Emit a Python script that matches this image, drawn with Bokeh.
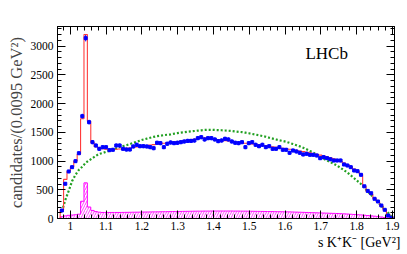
import numpy as np
from bokeh.plotting import figure
from bokeh.models import (FixedTicker, LinearAxis, Label, Range1d, Title,
                          CustomJSTickFormatter)
from bokeh.embed import file_html
from bokeh.resources import INLINE

# ---------------- data ----------------
first_edge = 0.9715
bin_width = 0.0095

data_counts = [139, 604, 818, 893, 997, 1136, 1780, 3137, 1676, 1328,
               1270, 1212, 1241, 1241, 1189, 1195, 1270, 1270, 1212, 1200,
               1200, 1253, 1282, 1258, 1258, 1253, 1241, 1223, 1317, 1311,
               1241, 1300, 1322, 1311, 1317, 1328, 1340, 1350, 1350, 1357,
               1398, 1415, 1375, 1398, 1398, 1375, 1346, 1357, 1386, 1375,
               1340, 1317, 1311, 1328, 1241, 1311, 1328, 1282, 1258, 1282,
               1241, 1258, 1212, 1212, 1241, 1195, 1195, 1143, 1183, 1166,
               1143, 1114, 1126, 1108, 1108, 1096, 1049, 1067, 1050, 1030,
               1009, 1009, 1009, 940, 922, 893, 835, 823, 760, 560,
               480, 440, 343, 296, 226, 151, 52, 12]

fit_total = [150, 680, 820, 900, 1000, 1120, 1735, 3200, 1690, 1320,
             1250, 1225, 1215, 1205, 1200, 1200, 1205, 1210, 1215, 1220,
             1225, 1235, 1245, 1255, 1262, 1270, 1278, 1285, 1292, 1300,
             1308, 1315, 1322, 1330, 1338, 1345, 1352, 1360, 1368, 1378,
             1395, 1410, 1405, 1395, 1385, 1378, 1370, 1362, 1355, 1348,
             1340, 1332, 1325, 1318, 1310, 1303, 1296, 1289, 1281, 1273,
             1265, 1257, 1249, 1240, 1232, 1223, 1214, 1205, 1195, 1185,
             1175, 1164, 1153, 1141, 1129, 1116, 1102, 1088, 1072, 1055,
             1037, 1016, 993, 965, 935, 900, 860, 815, 770, 560,
             470, 420, 350, 290, 220, 150, 70, 15]

green_comp = [120, 320, 480, 650, 760, 845, 900, 970, 1010, 1050,
              1090, 1125, 1140, 1160, 1180, 1200, 1220, 1245, 1260, 1275,
              1295, 1315, 1335, 1355, 1375, 1390, 1405, 1420, 1432, 1440,
              1450, 1457, 1463, 1475, 1485, 1495, 1500, 1508, 1515, 1522,
              1528, 1534, 1540, 1543, 1543, 1540, 1538, 1535, 1531, 1527,
              1522, 1515, 1508, 1502, 1493, 1483, 1470, 1460, 1448, 1435,
              1422, 1405, 1390, 1375, 1360, 1348, 1335, 1315, 1295, 1275,
              1255, 1230, 1205, 1175, 1145, 1110, 1080, 1040, 1010, 980,
              950, 920, 880, 840, 800, 750, 700, 650, 600, 530,
              470, 410, 340, 280, 220, 160, 100, 30]

bkg_comp = [30, 45, 55, 60, 65, 75, 300, 620, 200, 140,
            120, 110, 105, 105, 105, 105, 105, 105, 106, 107,
            108, 109, 110, 111, 112, 113, 114, 115, 116, 117,
            118, 119, 120, 121, 122, 123, 124, 125, 126, 127,
            128, 128, 129, 129, 130, 130, 130, 130, 130, 130,
            130, 129, 129, 128, 128, 127, 126, 125, 124, 123,
            122, 121, 120, 119, 118, 117, 116, 115, 113, 111,
            109, 107, 105, 103, 101, 99, 97, 95, 93, 91,
            89, 87, 84, 81, 78, 74, 70, 66, 62, 57,
            52, 46, 40, 33, 26, 18, 10, 4]

x_ticks = [1.0, 1.1, 1.2, 1.3, 1.4, 1.5, 1.6, 1.7, 1.8, 1.9]
x_minor = [round(0.98 + 0.02 * i, 2) for i in range(47)]
y_ticks = [0, 500, 1000, 1500, 2000, 2500, 3000]
y_minor = list(range(0, 3400, 100))

x_title = "s K⁺K⁻ [GeV²]"
y_title = "candidates/(0.0095 GeV²)"

# ---------------- derived geometry ----------------
n = len(data_counts)
edges = first_edge + bin_width * np.arange(n + 1)
centers = 0.5 * (edges[:-1] + edges[1:])
counts = np.array(data_counts, dtype=float)
err = np.sqrt(counts)


def step_xy(vals):
    xs = np.repeat(edges, 2)
    ys = np.concatenate([[0], np.repeat(np.asarray(vals, float), 2), [0]])
    return xs, ys


SERIF = "Liberation Serif"

p = figure(width=404, height=252, output_backend="svg",
           toolbar_location=None,
           x_range=Range1d(0.964, 1.906), y_range=Range1d(0, 3340),
           min_border_left=57, min_border_right=10, min_border_top=26,
           min_border_bottom=34)
p.background_fill_color = "white"
p.border_fill_color = "white"
p.outline_line_color = "black"
p.grid.visible = False

# background (hatched magenta)
p.quad(left=edges[:-1], right=edges[1:], bottom=0, top=bkg_comp,
       fill_color=None, line_color=None, hatch_pattern="/",
       hatch_color="#ff44ff", hatch_scale=5, hatch_weight=1)
bx, by = step_xy(bkg_comp)
p.line(bx, by, line_color="#ff00ff", line_width=1)

# green component (dotted)
p.line(centers, green_comp, line_color="#22a022", line_width=2.2,
       line_dash="2 2")

# total fit (red histogram)
fx, fy = step_xy(fit_total)
p.line(fx, fy, line_color="#ff3b3b", line_width=1.1)

# data points with error bars
p.segment(x0=centers, y0=counts - err, x1=centers, y1=counts + err,
          line_color="#0000ff", line_width=1)
p.scatter(centers, counts, marker="square", size=3, fill_color="#0000ff",
          line_color="#0000ff")

# ---------------- axes ----------------
fmt = CustomJSTickFormatter(code="return (Math.round(tick*10)/10).toString();")
blank = CustomJSTickFormatter(code="return '';")


def style_axis(ax, standoff):
    ax.major_tick_in = 8
    ax.major_tick_out = 0
    ax.minor_tick_in = 4
    ax.minor_tick_out = 0
    ax.axis_line_color = "black"
    ax.major_tick_line_color = "black"
    ax.minor_tick_line_color = "black"
    ax.major_label_text_font = SERIF
    ax.major_label_text_font_size = "11.5px"
    ax.major_label_text_color = "black"
    ax.major_label_standoff = standoff


p.xaxis.ticker = FixedTicker(ticks=x_ticks, minor_ticks=x_minor)
p.xaxis.formatter = fmt
p.yaxis.ticker = FixedTicker(ticks=y_ticks, minor_ticks=y_minor)
style_axis(p.xaxis[0], 3)
style_axis(p.yaxis[0], 4)
p.yaxis.axis_label = y_title
p.yaxis.axis_label_text_font = SERIF
p.yaxis.axis_label_text_font_size = "16.5px"
p.yaxis.axis_label_text_font_style = "normal"
p.yaxis.axis_label_standoff = 2

top = LinearAxis(ticker=FixedTicker(ticks=x_ticks, minor_ticks=x_minor),
                 formatter=blank)
style_axis(top, 0)
p.add_layout(top, "above")
right = LinearAxis(ticker=FixedTicker(ticks=y_ticks, minor_ticks=y_minor),
                   formatter=blank)
style_axis(right, 0)
p.add_layout(right, "right")

# ---------------- texts ----------------
p.add_layout(Label(x=1.657, y=2700, text="LHCb", text_font=SERIF,
                   text_font_size="17px", text_color="black"))

p.add_layout(Title(text=x_title, align="right", offset=-6, standoff=0,
                   text_font=SERIF, text_font_size="14px",
                   text_font_style="normal", text_color="black"), "below")

open("out.html", "w").write(file_html(p, INLINE))
